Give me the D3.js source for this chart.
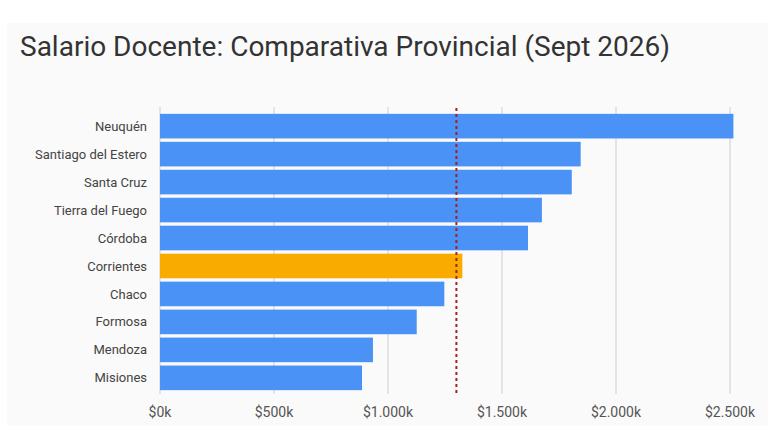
<!DOCTYPE html>
<html><head><meta charset="utf-8">
<script src="https://cdn.jsdelivr.net/npm/d3@7"></script>
<style>body{margin:0;background:#fff;}svg{display:block;}</style>
</head><body>
<svg id="chart" width="768" height="434"></svg>
<script>
const provinces = ["Neuquén","Santiago del Estero","Santa Cruz","Tierra del Fuego","Córdoba","Corrientes","Chaco","Formosa","Mendoza","Misiones"];
const salaries = [2515, 1845, 1806, 1675, 1614, 1326, 1247, 1126, 934, 886];
const highlight = "Corrientes";
const average = 1300;
const xTicks = [0, 500, 1000, 1500, 2000, 2500];
const xTickLabels = ["$0k","$500k","$1.000k","$1.500k","$2.000k","$2.500k"];
const title = "Salario Docente: Comparativa Provincial (Sept 2026)";

const svg = d3.select("#chart");
svg.append("rect").attr("x",7).attr("y",23).attr("width",761).attr("height",403).attr("fill","#fafafa");

const x = d3.scaleLinear().domain([0,2500]).range([160,730]);
const y = d3.scaleBand().domain(provinces).range([113,391]).paddingInner(0.12).paddingOuter(0.03);

svg.append("text").attr("x",20).attr("y",56).attr("font-family","Roboto, sans-serif")
  .attr("font-size",28).attr("fill","#333").text(title);

// gridlines
svg.append("g").selectAll("line").data(xTicks).join("line")
  .attr("x1",d=>x(d)).attr("x2",d=>x(d)).attr("y1",107).attr("y2",394)
  .attr("stroke","#d6d6d6").attr("stroke-width",1.2);

const data = provinces.map((p,i)=>({p, v:salaries[i]}));
svg.append("g").selectAll("rect").data(data).join("rect")
  .attr("x",x(0)).attr("y",d=>y(d.p)).attr("width",d=>x(d.v)-x(0)).attr("height",y.bandwidth())
  .attr("fill",d=>d.p===highlight?"#f9ab00":"#4a92f5");

// average line
svg.append("line").attr("x1",x(average)).attr("x2",x(average)).attr("y1",108).attr("y2",394)
  .attr("stroke","#a3241f").attr("stroke-width",2).attr("stroke-dasharray","3,3");

// y labels
svg.append("g").selectAll("text").data(provinces).join("text")
  .attr("x",147).attr("y",d=>y(d)+y.bandwidth()/2).attr("dy","0.35em")
  .attr("text-anchor","end").attr("font-family","Roboto, sans-serif").attr("font-size",13)
  .attr("fill","#444").text(d=>d);

// x labels
svg.append("g").selectAll("text").data(xTicks).join("text")
  .attr("x",d=>x(d)).attr("y",412).attr("dy","0.35em").attr("text-anchor","middle")
  .attr("font-family","Roboto, sans-serif").attr("font-size",14).attr("fill","#555")
  .text((d,i)=>xTickLabels[i]);
</script>
</body></html>
